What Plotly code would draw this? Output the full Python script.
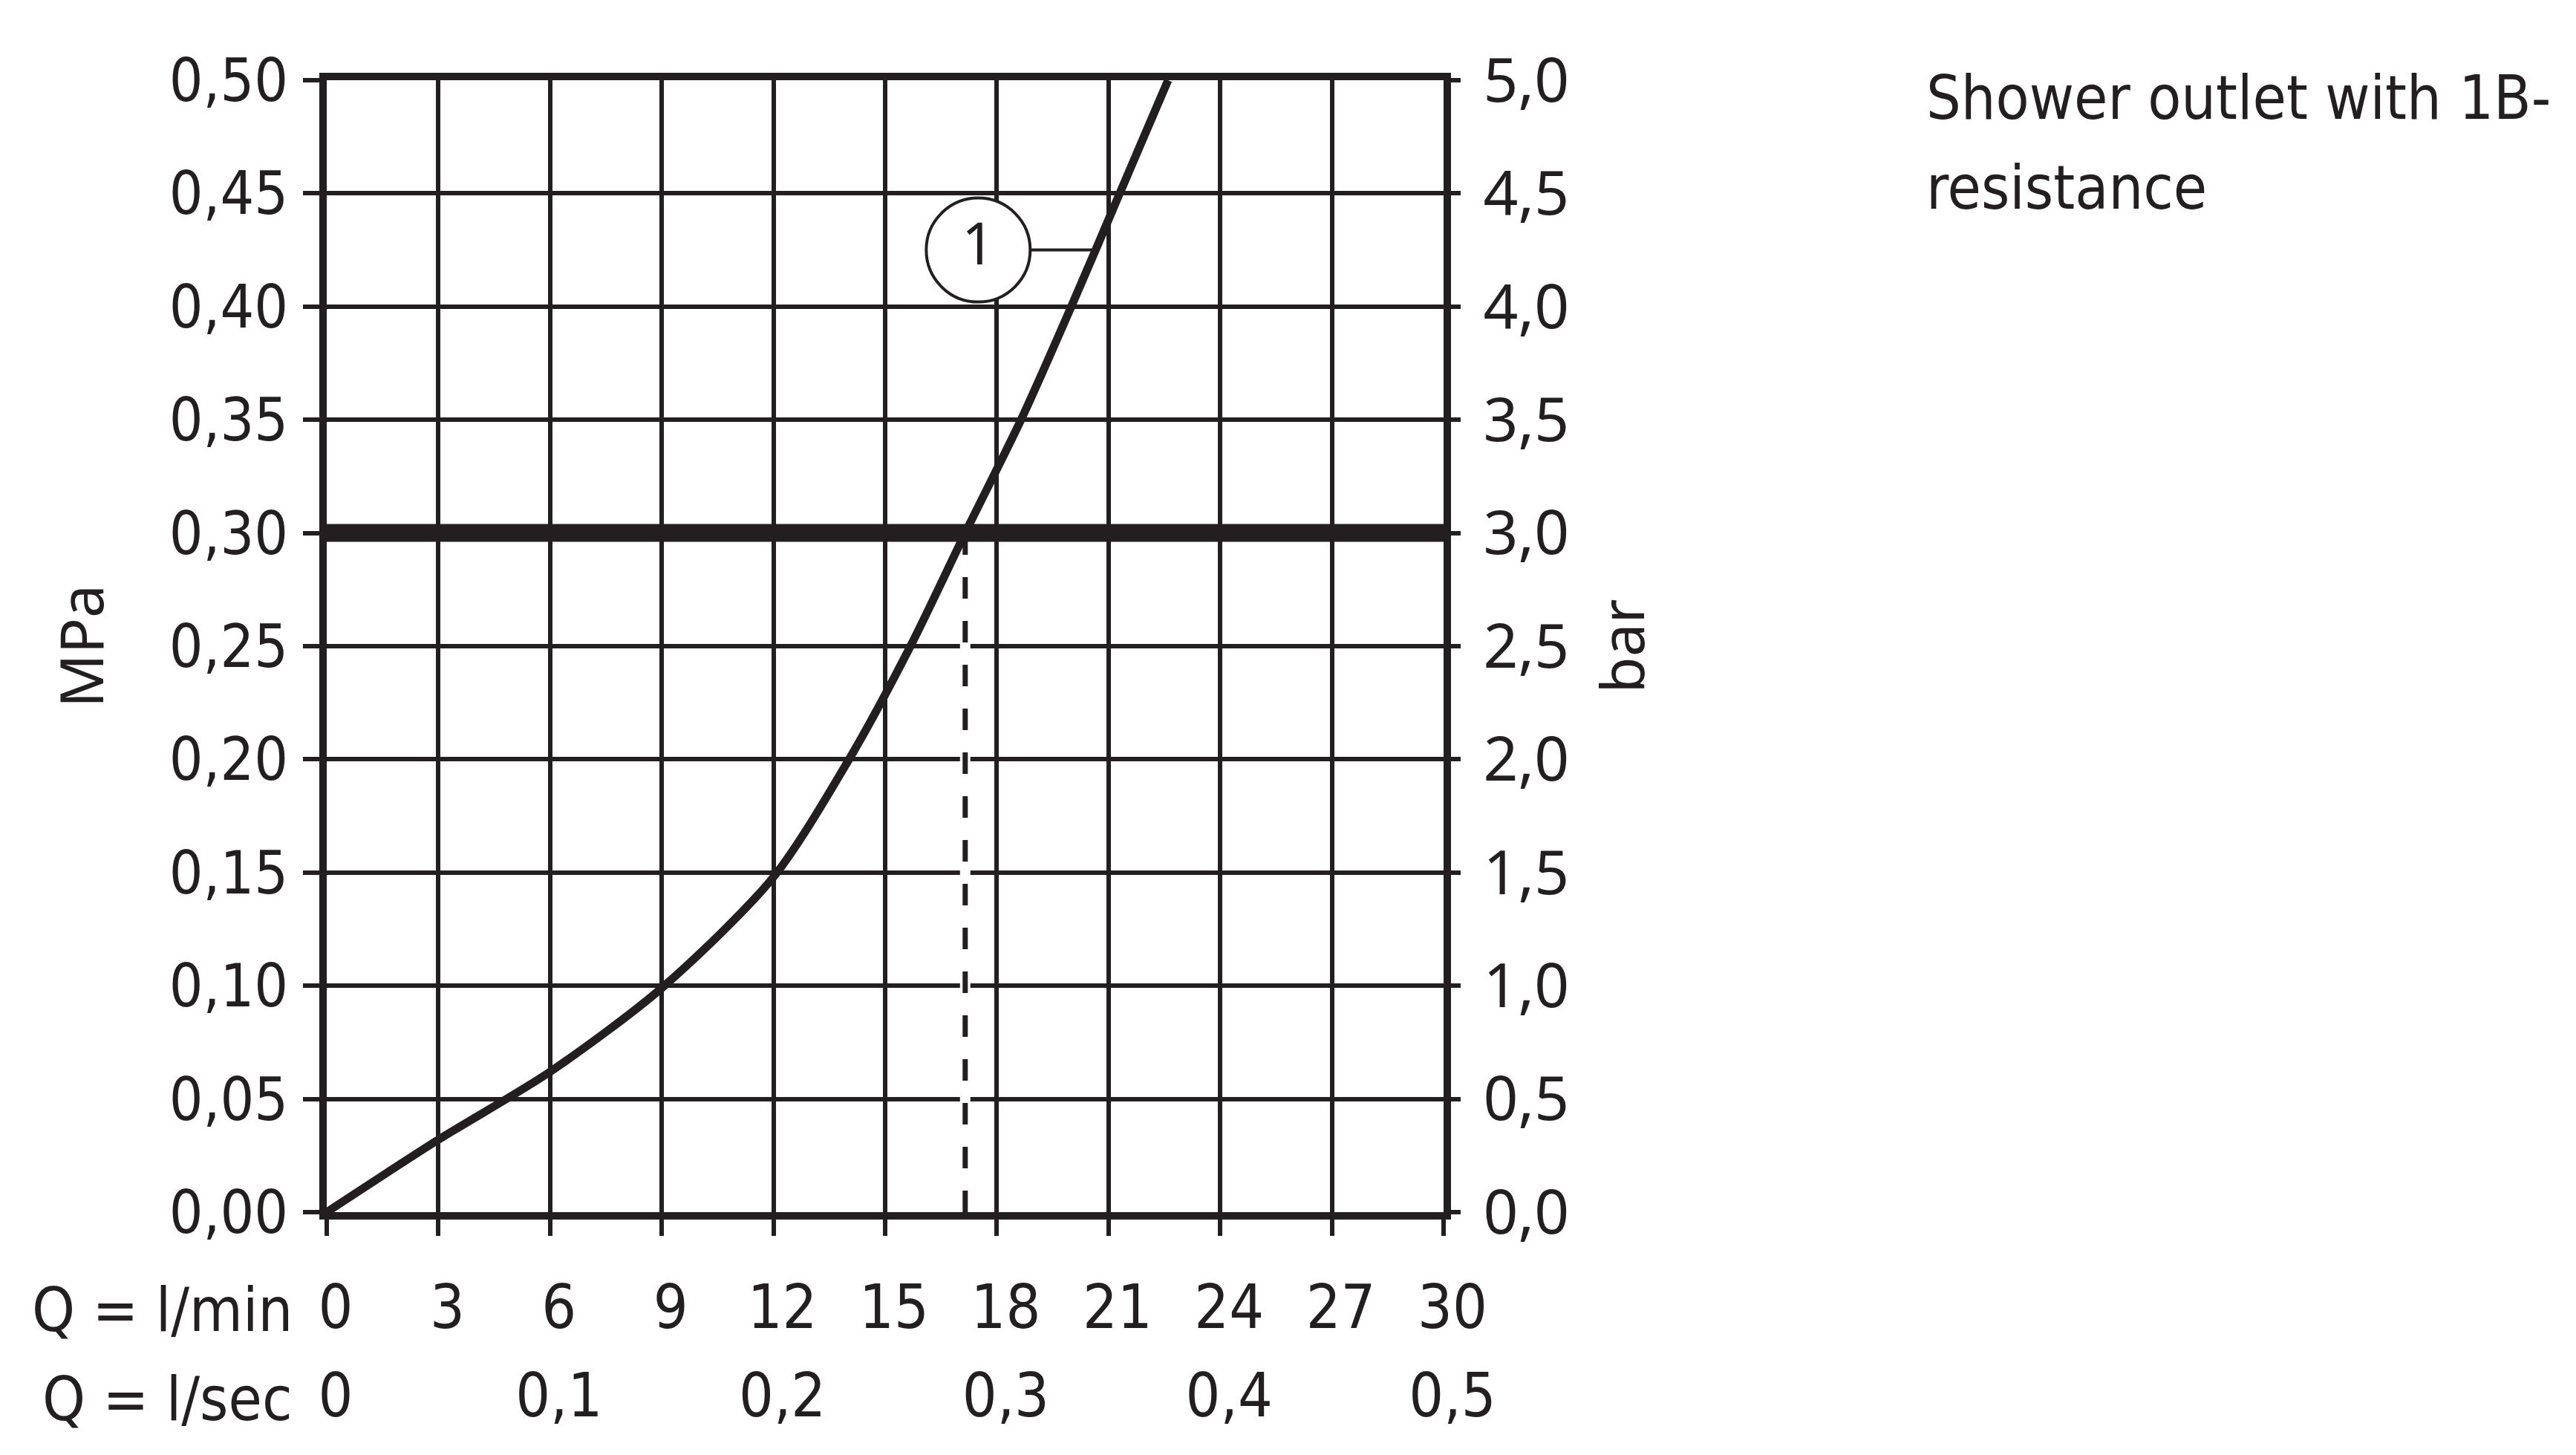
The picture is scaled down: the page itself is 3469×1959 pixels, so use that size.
import plotly.graph_objects as go

# ---------------- data ----------------
flow_lpm = [0, 3, 6, 9, 12, 14.03, 15.68, 17.15, 18.65, 20.0, 21.3, 22.6]
pressure_mpa = [0, 0.032, 0.062, 0.099, 0.148, 0.20, 0.25, 0.30, 0.35, 0.40, 0.45, 0.50]

x_ticks_lpm = [0, 3, 6, 9, 12, 15, 18, 21, 24, 27, 30]
x_labels_lpm = ["0", "3", "6", "9", "12", "15", "18", "21", "24", "27", "30"]
x_ticks_lps = [0, 0.1, 0.2, 0.3, 0.4, 0.5]
x_labels_lps = ["0", "0,1", "0,2", "0,3", "0,4", "0,5"]
y_ticks_mpa = [0, 0.05, 0.10, 0.15, 0.20, 0.25, 0.30, 0.35, 0.40, 0.45, 0.50]
y_labels_mpa = ["0,00", "0,05", "0,10", "0,15", "0,20", "0,25", "0,30", "0,35", "0,40", "0,45", "0,50"]
y_ticks_bar = [0, 0.5, 1.0, 1.5, 2.0, 2.5, 3.0, 3.5, 4.0, 4.5, 5.0]
y_labels_bar = ["0,0", "0,5", "1,0", "1,5", "2,0", "2,5", "3,0", "3,5", "4,0", "4,5", "5,0"]

title_lines = ["Shower outlet with 1B-", "resistance"]

limit_pressure = 0.30          # thick reference line (MPa)
operating_flow = 17.15         # flow at the limit pressure (l/min)
callout_label = "1"
callout_center = (17.5, 0.425)  # circle label position (l/min, MPa)
callout_curve_flow = 20.6       # where the leader meets the curve

q_range = [0, 30]
p_range = [0, 0.5]

INK = "#231f20"
W, H = 3469, 1959
ML, MR, MT, MB = 432, 1533, 100, 335
PW, PH = W - ML - MR, H - MT - MB

cond = "DejaVu Sans Condensed, Liberation Sans Narrow, Roboto Condensed, Noto Sans, sans-serif"
wide = "Noto Sans, DejaVu Sans, sans-serif"

fig = go.Figure()

# white halo under the dashed drop line
fig.add_trace(go.Scatter(x=[operating_flow, operating_flow], y=[0, limit_pressure], mode="lines",
                         line=dict(color="white", width=14), hoverinfo="skip", showlegend=False))
fig.add_trace(go.Scatter(x=[operating_flow, operating_flow], y=[0, limit_pressure], mode="lines",
                         line=dict(color=INK, width=7, dash="29px,30px"), hoverinfo="skip", showlegend=False))
# thick limit line
fig.add_trace(go.Scatter(x=q_range, y=[limit_pressure, limit_pressure], mode="lines",
                         line=dict(color=INK, width=24), hoverinfo="skip", showlegend=False))
# curve
fig.add_trace(go.Scatter(x=flow_lpm, y=pressure_mpa, mode="lines",
                         line=dict(color=INK, width=11, shape="spline", smoothing=0.8),
                         showlegend=False, name="1"))
# callout leader + circle
fig.add_trace(go.Scatter(x=[callout_center[0], callout_curve_flow], y=[callout_center[1], callout_center[1]],
                         mode="lines", line=dict(color=INK, width=4), hoverinfo="skip", showlegend=False))
fig.add_trace(go.Scatter(x=[callout_center[0]], y=[callout_center[1]], mode="markers+text",
                         marker=dict(symbol="circle", size=140, color="white", line=dict(color=INK, width=4)),
                         text=[callout_label], textposition="middle center",
                         textfont=dict(family=wide, size=78, color=INK),
                         hoverinfo="skip", showlegend=False))
# invisible traces to activate secondary axes
fig.add_trace(go.Scatter(x=[0], y=[0], xaxis="x2", yaxis="y", mode="markers",
                         marker=dict(opacity=0), hoverinfo="skip", showlegend=False))
fig.add_trace(go.Scatter(x=[0], y=[0], xaxis="x", yaxis="y2", mode="markers",
                         marker=dict(opacity=0), hoverinfo="skip", showlegend=False))

annotations = [
    dict(text="Q = l/min", xref="paper", yref="paper", x=(388 - ML) / PW, y=(1624 - 1755) / PH,
         xanchor="right", yanchor="middle", showarrow=False, font=dict(family=cond, size=82, color=INK)),
    dict(text="Q = l/sec", xref="paper", yref="paper", x=(388 - ML) / PW, y=(1624 - 1875) / PH,
         xanchor="right", yanchor="middle", showarrow=False, font=dict(family=cond, size=82, color=INK)),
]
for i, line in enumerate(title_lines):
    annotations.append(dict(text=line, xref="paper", yref="paper",
                            x=(2584 - ML) / PW, y=(1624 - (124 + 120 * i)) / PH,
                            xanchor="left", yanchor="middle", align="left", showarrow=False,
                            font=dict(family=cond, size=82, color=INK)))

fig.update_layout(
    width=W, height=H,
    margin=dict(l=ML, r=MR, t=MT, b=MB),
    paper_bgcolor="white", plot_bgcolor="white",
    xaxis=dict(range=q_range, tickvals=x_ticks_lpm, ticktext=x_labels_lpm,
               showgrid=True, gridcolor=INK, gridwidth=6,
               showline=True, linecolor=INK, linewidth=10, mirror=True,
               ticks="outside", ticklen=22, tickwidth=6, tickcolor=INK,
               tickfont=dict(family=cond, size=82, color=INK),
               ticklabelstandoff=26, ticklabelshift=12, zeroline=False),
    xaxis2=dict(range=[q_range[0] / 60, q_range[1] / 60], overlaying="x", side="bottom",
                tickvals=x_ticks_lps, ticktext=x_labels_lps, showgrid=False, showline=False,
                ticks="", tickfont=dict(family=cond, size=82, color=INK),
                ticklabelstandoff=192, ticklabelshift=12, zeroline=False),
    yaxis=dict(range=p_range, tickvals=y_ticks_mpa, ticktext=y_labels_mpa,
               showgrid=True, gridcolor=INK, gridwidth=6,
               showline=True, linecolor=INK, linewidth=10, mirror=True,
               ticks="outside", ticklen=22, tickwidth=6, tickcolor=INK,
               tickfont=dict(family=cond, size=80, color=INK), ticklabelstandoff=4,
               title=dict(text="MPa", font=dict(family=wide, size=80, color=INK), standoff=66),
               zeroline=False),
    yaxis2=dict(range=[p_range[0] * 10, p_range[1] * 10], overlaying="y", side="right",
                tickvals=y_ticks_bar, ticktext=y_labels_bar, showgrid=False, showline=False,
                ticks="outside", ticklen=22, tickwidth=6, tickcolor=INK,
                tickfont=dict(family=wide, size=82, color=INK), ticklabelstandoff=14,
                title=dict(text="bar", font=dict(family=wide, size=80, color=INK), standoff=45),
                zeroline=False),
    annotations=annotations,
)

fig.write_html("out.html")
